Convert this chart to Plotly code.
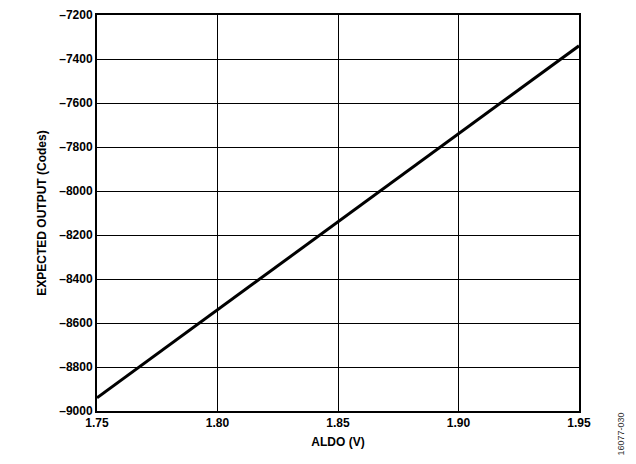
import plotly.graph_objects as go

aldo_v = [1.75, 1.80, 1.85, 1.90, 1.95]
expected_codes = [-8940, -8540, -8140, -7740, -7340]

x_ticks = [1.75, 1.80, 1.85, 1.90, 1.95]
x_labels = ["1.75", "1.80", "1.85", "1.90", "1.95"]
y_ticks = [-9000, -8800, -8600, -8400, -8200, -8000, -7800, -7600, -7400, -7200]
y_labels = ["–" + str(abs(v)) for v in y_ticks]

font_fam = "Liberation Sans, Arial, sans-serif"

fig = go.Figure()
fig.add_trace(go.Scatter(x=aldo_v, y=expected_codes, mode="lines",
                         line=dict(color="black", width=3), showlegend=False))

fig.update_layout(
    width=620, height=448,
    margin=dict(l=89, r=49, t=7, b=45),
    paper_bgcolor="white", plot_bgcolor="white",
    font=dict(family=font_fam, color="black", size=12),
    xaxis=dict(range=[1.75, 1.95], tickvals=x_ticks, ticktext=x_labels,
               automargin=False, ticklabeloverflow="allow",
               showgrid=True, gridcolor="black", gridwidth=1,
               showline=True, linecolor="black", linewidth=2, mirror=True,
               ticks="", zeroline=False,
               tickfont=dict(family=font_fam, size=12, color="black", weight="bold"),
               title=dict(text="<b>ALDO (V)</b>", standoff=8,
                          font=dict(family=font_fam, size=12, color="black"))),
    yaxis=dict(range=[-9000, -7200], tickvals=y_ticks, ticktext=y_labels,
               automargin=False, ticklabeloverflow="allow",
               showgrid=True, gridcolor="black", gridwidth=1,
               showline=True, linecolor="black", linewidth=2, mirror=True,
               ticks="", zeroline=False,
               tickfont=dict(family=font_fam, size=12, color="black", weight="bold"),
               title=dict(text="<b>EXPECTED OUTPUT (Codes)</b>", standoff=10,
                          font=dict(family=font_fam, size=12, color="black"))),
)

fig.add_annotation(text="16077-030", xref="paper", yref="paper",
                   x=1.0, y=0.0, xshift=41, xanchor="center", yanchor="top",
                   textangle=-90, showarrow=False,
                   font=dict(family=font_fam, size=9, color="#333333"))

fig.write_html("out.html")
